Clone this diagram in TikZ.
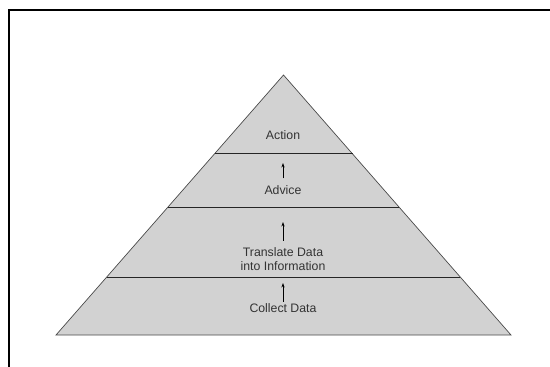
\documentclass[tikz,border=0pt]{standalone}
\usepackage{fontspec}
\setmainfont{Liberation Sans}
\usetikzlibrary{arrows.meta}
\definecolor{tierfill}{HTML}{D2D2D2}
\definecolor{tieredge}{HTML}{4A4A4A}
\definecolor{tiertext}{HTML}{333333}
\tikzset{
  tier/.style={inner sep=0pt, align=center, text=tiertext,
    font=\fontsize{12.3}{14}\selectfont},
  flow/.style={-{Stealth[length=4.5pt,width=3.2pt]}, line width=0.9pt, black},
  band/.style={line width=0.9pt, black!85}
}
\newcommand{\tiernode}[4]{\node[tier] (#1) at ( #2 , #3 ) {#4};}

\begin{document}
\begin{tikzpicture}[x=1pt,y=-1pt]
        \useasboundingbox (0,0) rectangle (550,367);
        %frame
        \draw[line width=2pt] (9,367) -- (9,10) -- (550,10);
        %pyramid
        \coordinate (apex) at (283.5,75);
        \coordinate (baseL) at (56,335);
        \coordinate (baseR) at (511,335);
        \filldraw[fill=tierfill, draw=tieredge, line width=0.7pt] (baseL) -- (apex) -- (baseR) -- cycle;
        %bands
        \draw[band] (214.5,153) -- (352.5,153);
        \draw[band] (168,207) -- (399,207);
        \draw[band] (106.8,277) -- (460.2,277);
        %nodes
        \tiernode{action}{283}{135}{Action}
        \tiernode{advice}{283}{190}{Advice}
        \tiernode{translate}{283}{259}{Translate Data\\into Information}
        \tiernode{collect}{283}{308}{Collect Data}
        %arrows
        \coordinate (tipA) at (283,163);
        \coordinate (tipB) at (283,222);
        \coordinate (tipC) at (283,283);
        \draw[flow, shorten <=7pt] (advice.north) -- (tipA);
        \draw[flow, shorten <=6.5pt] (translate.north) -- (tipB);
        \draw[flow, shorten <=1.5pt] (collect.north) -- (tipC);
        \end{tikzpicture}
\end{document}
